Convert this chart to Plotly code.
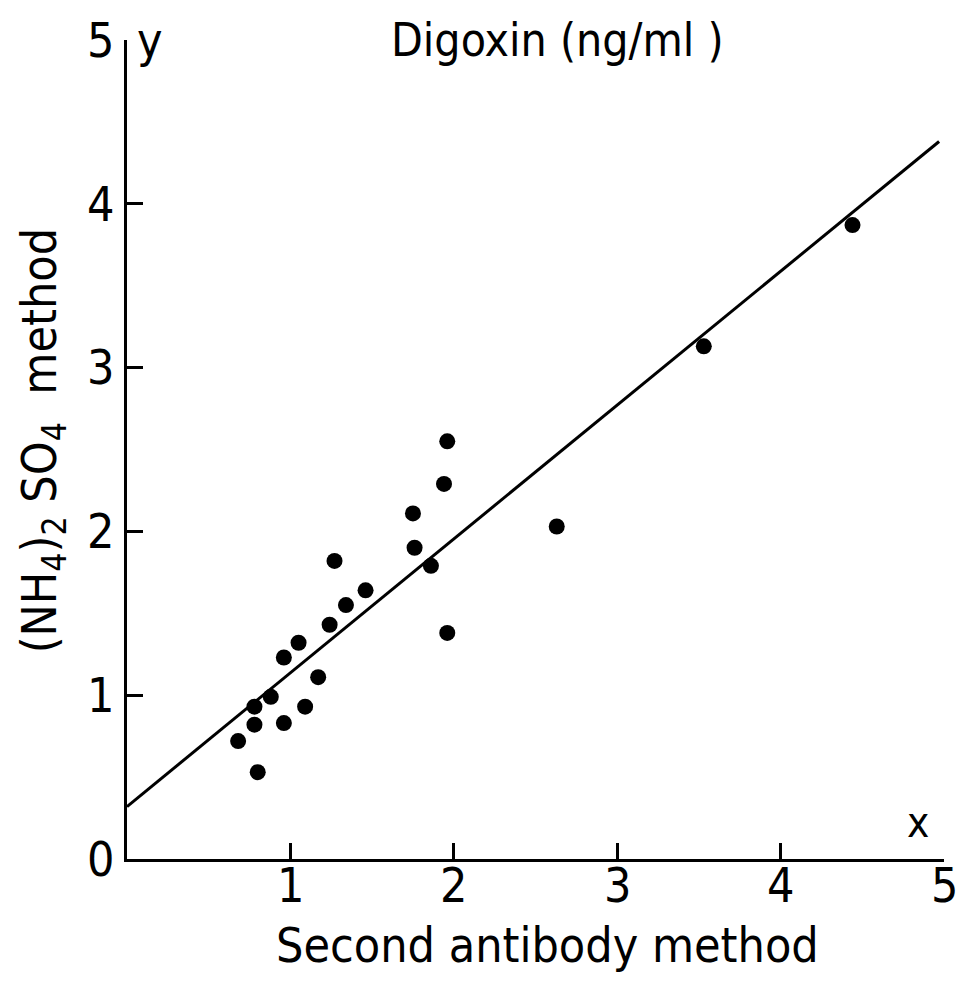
import plotly.graph_objects as go

# Digoxin serum levels (ng/ml) measured by two assay methods
second_antibody = [0.68, 0.78, 0.78, 0.80, 0.88, 0.96, 0.96, 1.05, 1.09, 1.17,
                   1.24, 1.27, 1.34, 1.46, 1.75, 1.76, 1.86, 1.94, 1.96, 1.96,
                   2.63, 3.53, 4.44]
ammonium_sulfate = [0.72, 0.93, 0.82, 0.53, 0.99, 1.23, 0.83, 1.32, 0.93, 1.11,
                    1.43, 1.82, 1.55, 1.64, 2.11, 1.90, 1.79, 2.29, 2.55, 1.38,
                    2.03, 3.13, 3.87]

# Regression line y = a + b x
intercept = 0.32
slope = 0.817
line_x = [0.0, 4.97]
line_y = [intercept + slope * v for v in line_x]

x_tick_vals = [1, 2, 3, 4, 5]
x_tick_text = ["1", "2", "3", "4", "5"]
y_tick_vals = [0, 1, 2, 3, 4, 5]
y_tick_text = ["0", "1", "2", "3", "4", "5"]

FONT = "DejaVu Sans Condensed, Liberation Sans Narrow, DejaVu Sans, sans-serif"

fig = go.Figure()
fig.add_trace(go.Scatter(x=line_x, y=line_y, mode="lines",
                         line=dict(color="black", width=3), hoverinfo="skip"))
fig.add_trace(go.Scatter(x=second_antibody, y=ammonium_sulfate, mode="markers",
                         marker=dict(color="black", size=16, line=dict(width=0))))

annotations = [
    dict(text="Digoxin (ng/ml )", x=(557 - 127) / 817, y=1.0, xref="paper", yref="paper",
         showarrow=False, font=dict(family=FONT, size=46),
         xanchor="center", yanchor="middle"),
    dict(text="Second antibody method", x=0.515, y=-0.105, xref="paper", yref="paper",
         showarrow=False, font=dict(family=FONT, size=48),
         xanchor="center", yanchor="middle"),
    dict(text="(NH<sub>4</sub>)<sub>2</sub> SO<sub>4</sub>  method", x=-0.104, y=0.51,
         xref="paper", yref="paper", textangle=-90,
         showarrow=False, font=dict(family=FONT, size=48),
         xanchor="center", yanchor="middle"),
    dict(text="y", x=0.028, y=1.0, xref="paper", yref="paper",
         showarrow=False, font=dict(family=FONT, size=48),
         xanchor="center", yanchor="middle"),
    dict(text="x", x=0.968, y=0.045, xref="paper", yref="paper",
         showarrow=False, font=dict(family=FONT, size=42),
         xanchor="center", yanchor="middle"),
]
# x tick labels sit just under the axis line
for v, t in zip(x_tick_vals, x_tick_text):
    annotations.append(dict(text=t, x=v, y=-0.032, xref="x", yref="paper",
                            showarrow=False, font=dict(family=FONT, size=48),
                            xanchor="center", yanchor="middle"))

fig.update_layout(
    width=964, height=983,
    margin=dict(l=127, r=20, t=34, b=124),
    paper_bgcolor="white", plot_bgcolor="white",
    showlegend=False,
    font=dict(family=FONT, size=48, color="black"),
    xaxis=dict(range=[0, 5], showgrid=False, zeroline=False,
               showline=True, linecolor="black", linewidth=3,
               ticks="inside", ticklen=16, tickwidth=3, tickcolor="black",
               tickvals=x_tick_vals, showticklabels=False),
    yaxis=dict(range=[0, 5], showgrid=False, zeroline=False,
               showline=True, linecolor="black", linewidth=3,
               ticks="inside", ticklen=16, tickwidth=3, tickcolor="black",
               tickvals=y_tick_vals, ticktext=y_tick_text,
               tickfont=dict(family=FONT, size=48)),
    annotations=annotations,
)

fig.write_html("out.html")
